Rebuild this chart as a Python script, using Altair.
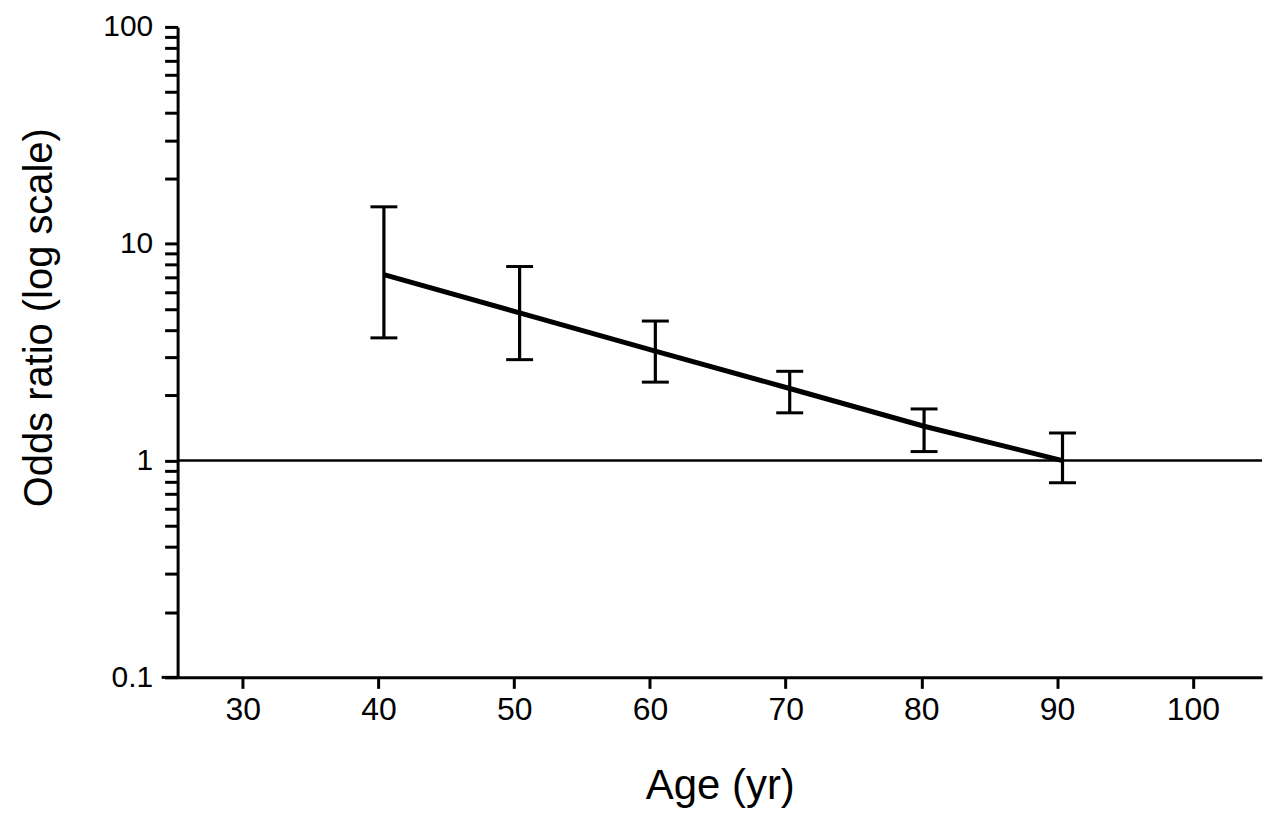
import altair as alt
import pandas as pd

# Data
ages = [40.4, 50.4, 60.4, 70.3, 80.2, 90.4]
odds = [7.2, 4.8, 3.2, 2.15, 1.44, 1.0]
lower = [3.68, 2.92, 2.30, 1.66, 1.10, 0.79]
upper = [14.8, 7.85, 4.40, 2.58, 1.73, 1.34]

x_ticks = [30, 40, 50, 60, 70, 80, 90, 100]
y_major = [0.1, 1, 10, 100]
y_ticks = ([round(k * 0.1, 1) for k in range(1, 10)] + list(range(1, 10))
           + list(range(10, 100, 10)) + [100])

df = pd.DataFrame({"age": ages, "or": odds, "lo": lower, "hi": upper})

W, H = 1087, 652
FONT = "Liberation Sans"

xscale = alt.Scale(domain=[25.2, 105.1], nice=False, zero=False)
yscale = alt.Scale(type="log", domain=[0.1, 100], nice=False)

label_expr = "(" + "||".join(f"datum.value=={v}" for v in y_major) + ") ? datum.label : ''"

x_axis = alt.Axis(values=x_ticks, title="Age (yr)", tickSize=11, labelPadding=6,
                  labelFontSize=32, titleFontSize=42, titlePadding=40, labelFlush=False,
                  grid=False)
y_axis = alt.Axis(values=y_ticks, title="Odds ratio (log scale)", tickSize=13,
                  labelPadding=12, labelFontSize=30, titleFontSize=40, titlePadding=43,
                  titleY=291,
                  labelExpr=label_expr, labelOverlap=False, format="~g", grid=False)

base = alt.Chart(df)

bars = base.mark_rule(color="black", strokeWidth=3.2).encode(
    x=alt.X("age:Q", scale=xscale, axis=x_axis),
    y=alt.Y("lo:Q", scale=yscale, axis=y_axis),
    y2="hi:Q",
)
caps_hi = base.mark_tick(color="black", orient="horizontal", size=27, thickness=3,
                         opacity=1).encode(
    x=alt.X("age:Q", scale=xscale), y=alt.Y("hi:Q", scale=yscale))
caps_lo = base.mark_tick(color="black", orient="horizontal", size=27, thickness=3,
                         opacity=1).encode(
    x=alt.X("age:Q", scale=xscale), y=alt.Y("lo:Q", scale=yscale))
trend = base.mark_line(color="black", strokeWidth=5).encode(
    x=alt.X("age:Q", scale=xscale), y=alt.Y("or:Q", scale=yscale))
ref = alt.Chart(pd.DataFrame({"v": [1]})).mark_rule(color="black", strokeWidth=2.5).encode(
    y=alt.Y("v:Q", scale=yscale))
ext = alt.Chart(pd.DataFrame({"v": [1]})).mark_rule(color="black", strokeWidth=3).encode(
    x=alt.value(-16), x2=alt.value(0), y=alt.value(H))

chart = alt.layer(bars, caps_hi, caps_lo, trend, ref, ext).properties(
    width=W, height=H,
    autosize=alt.AutoSizeParams(type="none"),
    padding={"left": 170, "top": 18, "right": 10, "bottom": 140},
).configure_view(stroke=None).configure_axis(
    domainColor="black", domainWidth=3, tickColor="black", tickWidth=3,
    labelColor="black", titleColor="black", labelFont=FONT, titleFont=FONT,
    titleFontWeight="normal",
)

chart.save("out.html", embed_options={"renderer": "svg", "actions": False})
